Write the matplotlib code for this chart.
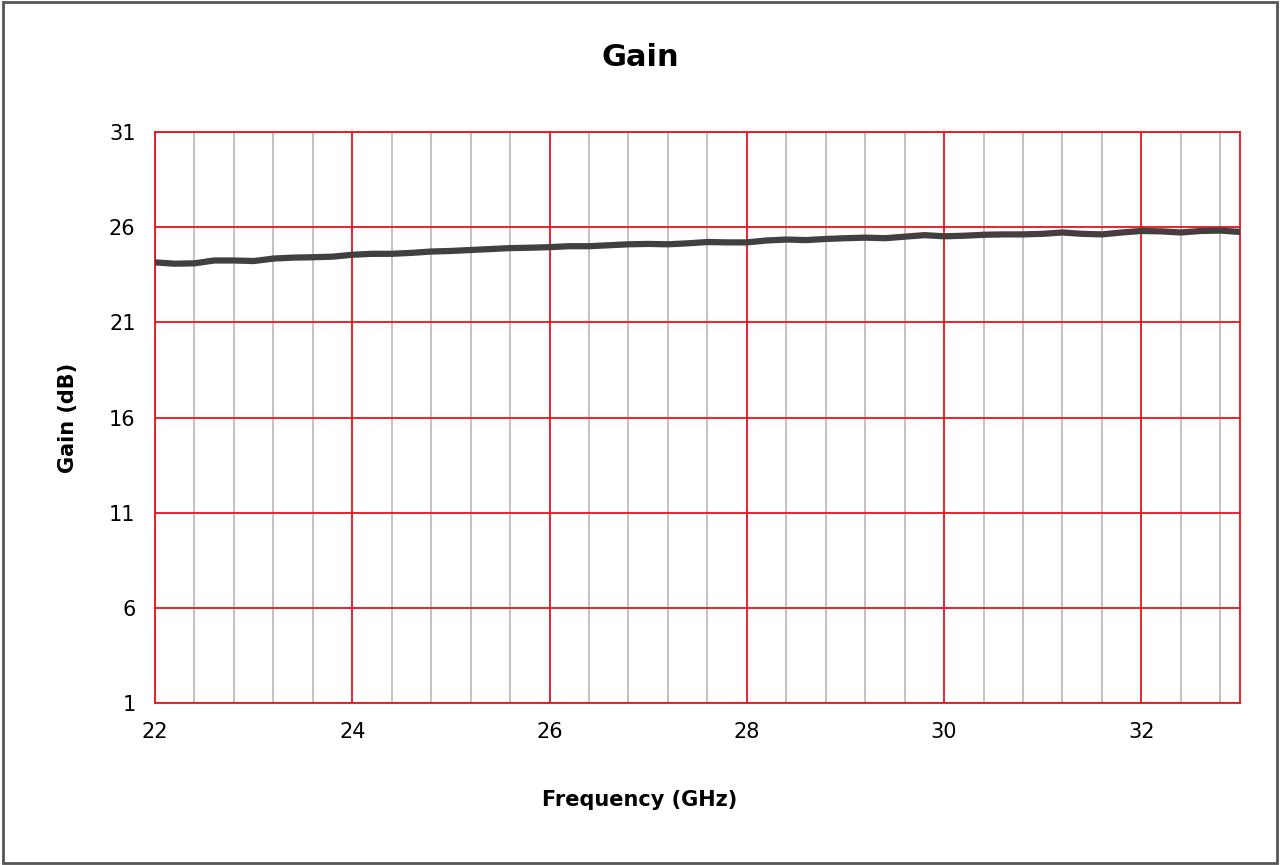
import matplotlib.pyplot as plt
from matplotlib.ticker import MultipleLocator

freq = [22.0, 22.2, 22.4, 22.6, 22.8, 23.0, 23.2, 23.4, 23.6, 23.8, 24.0, 24.2, 24.4, 24.6,
        24.8, 25.0, 25.2, 25.4, 25.6, 25.8, 26.0, 26.2, 26.4, 26.6, 26.8, 27.0, 27.2, 27.4,
        27.6, 27.8, 28.0, 28.2, 28.4, 28.6, 28.8, 29.0, 29.2, 29.4, 29.6, 29.8, 30.0, 30.2,
        30.4, 30.6, 30.8, 31.0, 31.2, 31.4, 31.6, 31.8, 32.0, 32.2, 32.4, 32.6, 32.8, 33.0]
gain = [24.15, 24.08, 24.1, 24.25, 24.25, 24.22, 24.35, 24.4, 24.42, 24.45, 24.55, 24.6, 24.6, 24.65,
        24.72, 24.75, 24.8, 24.85, 24.9, 24.92, 24.95, 25.0, 25.0, 25.05, 25.1, 25.12, 25.1, 25.15,
        25.22, 25.2, 25.2, 25.3, 25.35, 25.32, 25.38, 25.42, 25.45, 25.42, 25.5, 25.58, 25.52, 25.55,
        25.6, 25.62, 25.62, 25.65, 25.72, 25.65, 25.62, 25.72, 25.8, 25.78, 25.72, 25.8, 25.82, 25.75]
yticks = [1, 6, 11, 16, 21, 26, 31]

fig = plt.figure(figsize=(12.8, 8.65), dpi=100)
ax = fig.add_axes([155/1280, 1-703/865, (1240-155)/1280, (703-132)/865])

ax.plot(freq, gain, color='#404040', linewidth=4.5, zorder=3)

ax.set_xlim(22, 33)
ax.set_ylim(1, 31)
ax.xaxis.set_major_locator(MultipleLocator(2))
ax.xaxis.set_minor_locator(MultipleLocator(0.4))
ax.set_yticks(yticks)
ax.grid(which='minor', axis='x', color='#b8b8b8', linewidth=1.2)
ax.grid(which='major', color='#e8141c', linewidth=1.3)
ax.set_axisbelow(True)
for s in ax.spines.values():
    s.set_color('#e8141c')
    s.set_linewidth(1.3)
ax.tick_params(which='both', length=0, labelsize=15, pad=14)

fig.text(0.5, 1-57/865, 'Gain', fontsize=22, fontweight='bold', ha='center', va='center')
fig.text(0.5, 1-800/865, 'Frequency (GHz)', fontsize=15, fontweight='bold', ha='center', va='center')
fig.text(68/1280, 1-418/865, 'Gain (dB)', fontsize=15, fontweight='bold', ha='center', va='center',
         rotation=90)

fig.patches.append(plt.Rectangle((0.002, 0.002), 0.996, 0.996, transform=fig.transFigure,
                                 fill=False, edgecolor='#555555', linewidth=2))
fig.savefig('out.png', dpi=100)
